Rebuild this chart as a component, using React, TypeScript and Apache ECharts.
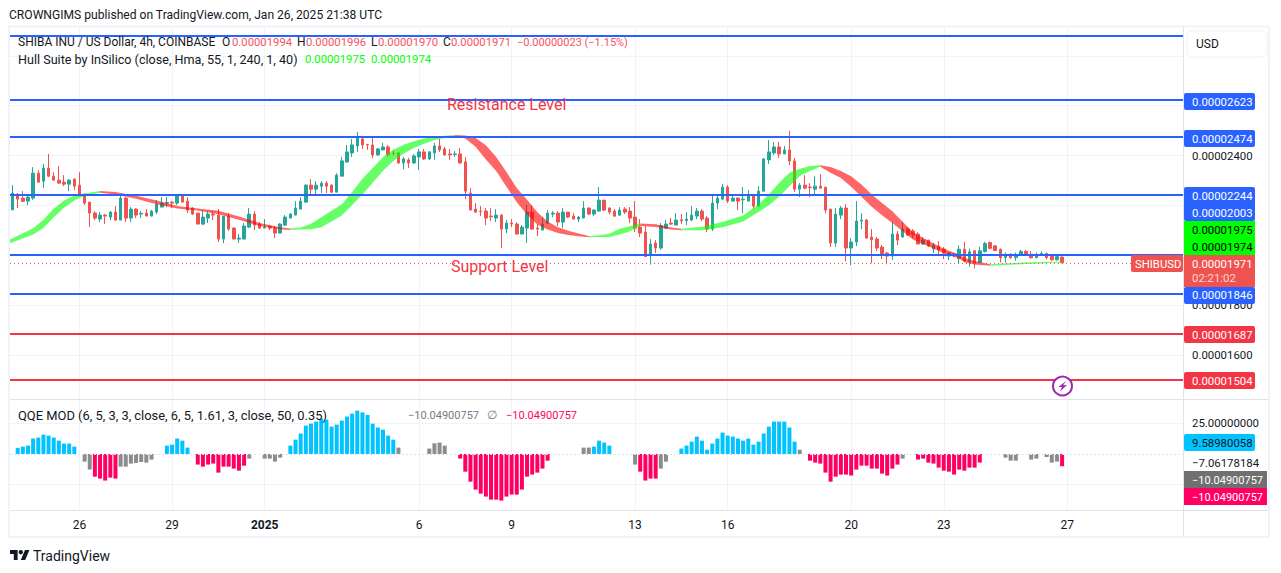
import React, { useEffect, useRef } from "react";
import * as echarts from "echarts";

const FONT = "Roboto";
const SLOT_COUNT = 228;
const dayTicks: Record<number, string> = { 13: "26", 31: "29", 49: "2025", 79: "6", 97: "9", 121: "13", 139: "16", 163: "20", 181: "23", 205: "27" };
// prices are in units of 0.00000001; rows are [open, high, low, close]
const candleRows = [
  [2183,2282,2183,2250],[2246,2250,2190,2226],[2230,2258,2215,2217],[2218,2240,2202,2234],[2230,2354,2223,2330],
  [2330,2342,2293,2294],[2298,2367,2270,2350],[2350,2407,2314,2318],[2318,2334,2302,2302],[2302,2358,2290,2290],
  [2294,2322,2278,2286],[2286,2306,2258,2302],[2306,2310,2262,2278],[2282,2334,2242,2242],[2246,2246,2202,2210],
  [2214,2214,2114,2170],[2170,2178,2142,2150],[2146,2174,2134,2162],[2162,2166,2126,2158],[2154,2178,2142,2174],
  [2174,2198,2138,2142],[2142,2242,2142,2230],[2230,2234,2134,2150],[2150,2194,2134,2186],[2186,2190,2150,2162],
  [2166,2178,2151,2169],[2170,2186,2158,2158],[2158,2182,2158,2178],[2174,2222,2166,2206],[2194,2234,2194,2210],
  [2209,2234,2194,2213],[2214,2218,2190,2210],[2210,2238,2202,2238],[2238,2242,2214,2214],[2218,2234,2170,2182],
  [2190,2194,2162,2166],[2170,2170,2126,2126],[2126,2182,2122,2154],[2150,2178,2130,2166],[2166,2178,2142,2162],
  [2162,2186,2054,2066],[2066,2158,2050,2157],[2158,2170,2098,2106],[2110,2114,2066,2066],[2066,2086,2050,2070],
  [2066,2130,2066,2118],[2114,2190,2110,2166],[2166,2178,2102,2122],[2126,2134,2106,2110],[2110,2146,2110,2114],
  [2116,2122,2102,2110],[2110,2118,2070,2090],[2090,2130,2090,2126],[2122,2162,2118,2154],[2150,2170,2150,2166],
  [2162,2218,2162,2190],[2186,2234,2186,2218],[2214,2286,2210,2282],[2282,2306,2246,2266],[2266,2298,2246,2282],
  [2278,2298,2250,2290],[2290,2298,2250,2278],[2282,2286,2250,2254],[2254,2330,2254,2322],[2318,2395,2318,2379],
  [2375,2443,2371,2415],[2411,2467,2395,2443],[2439,2495,2415,2471],[2467,2475,2427,2443],[2445,2447,2423,2443],
  [2443,2475,2391,2403],[2403,2431,2399,2427],[2423,2451,2423,2435],[2435,2443,2395,2403],[2411,2423,2399,2409],
  [2411,2415,2367,2371],[2371,2395,2346,2387],[2383,2391,2350,2371],[2371,2407,2367,2399],[2395,2427,2342,2415],
  [2415,2427,2383,2387],[2387,2419,2383,2415],[2411,2451,2383,2439],[2439,2467,2415,2423],[2427,2435,2399,2403],
  [2407,2427,2383,2403],[2405,2419,2395,2407],[2407,2431,2367,2371],[2375,2395,2226,2258],[2250,2270,2182,2182],
  [2186,2210,2170,2174],[2178,2198,2158,2176],[2178,2190,2122,2150],[2158,2190,2138,2155],[2150,2186,2134,2162],
  [2162,2166,2030,2106],[2106,2142,2090,2130],[2130,2146,2114,2126],[2126,2134,2086,2086],[2086,2122,2086,2114],
  [2110,2202,2050,2174],[2174,2202,2102,2106],[2110,2126,2078,2106],[2102,2154,2102,2126],[2130,2182,2126,2170],
  [2166,2178,2154,2170],[2170,2178,2118,2134],[2134,2190,2110,2174],[2174,2174,2150,2154],[2158,2170,2146,2146],
  [2146,2158,2134,2154],[2150,2218,2150,2190],[2190,2194,2162,2166],[2166,2186,2158,2182],[2178,2274,2178,2222],
  [2222,2222,2178,2182],[2190,2194,2166,2174],[2178,2186,2154,2158],[2162,2194,2158,2182],[2186,2194,2166,2174],
  [2178,2194,2130,2150],[2154,2218,2094,2110],[2114,2146,2074,2090],[2094,2117,1994,1996],[2002,2066,1964,2046],
  [2050,2062,2010,2030],[2030,2130,2023,2120],[2110,2142,2108,2126],[2130,2150,2122,2126],[2122,2170,2122,2142],
  [2143,2166,2126,2139],[2140,2174,2122,2146],[2142,2198,2138,2162],[2158,2190,2146,2178],[2178,2186,2138,2146],
  [2150,2158,2094,2106],[2106,2246,2098,2210],[2210,2246,2186,2230],[2226,2286,2222,2274],[2274,2282,2210,2218],
  [2218,2238,2218,2230],[2230,2234,2182,2218],[2223,2274,2170,2226],[2218,2262,2218,2242],[2242,2246,2186,2198],
  [2198,2278,2194,2258],[2258,2391,2258,2387],[2383,2463,2367,2415],[2411,2455,2403,2435],[2435,2455,2391,2407],
  [2407,2439,2407,2423],[2423,2499,2362,2379],[2379,2391,2254,2266],[2266,2290,2234,2282],[2282,2322,2266,2270],
  [2274,2290,2234,2272],[2266,2318,2242,2278],[2278,2326,2270,2270],[2274,2274,2170,2182],[2186,2186,2034,2050],
  [2050,2190,2034,2166],[2162,2198,2146,2190],[2190,2206,1977,2030],[2030,2070,1961,2054],[2054,2218,2038,2138],
  [2138,2170,2106,2142],[2142,2146,2066,2070],[2074,2106,1969,2063],[2066,2074,2018,2030],[2034,2042,1986,2002],
  [2010,2014,1965,1998],[1998,2134,1982,2086],[2086,2098,2042,2062],[2074,2134,2074,2106],[2106,2114,2078,2082],
  [2098,2106,2070,2082],[2086,2094,2046,2046],[2046,2074,2042,2062],[2062,2062,2034,2038],[2026,2050,2010,2042],
  [2038,2058,2006,2022],[2026,2034,1986,2010],[1998,2014,1982,2010],[2006,2010,1994,1998],[1988,2041,1969,2025],
  [2025,2055,1975,1979],[1975,2028,1956,2015],[2019,2021,1949,1969],[1972,2035,1972,2019],[2016,2055,2012,2048],
  [2052,2056,2025,2029],[2039,2041,2019,2020],[2025,2028,1972,1992],[1992,2012,1972,2005],[2005,2009,1988,1991],
  [1992,2012,1979,2003],[2001,2023,1999,2016],[2016,2023,2001,2005],[2005,2017,1988,1991],[1992,2012,1988,2004],
  [2004,2017,2001,2008],[2008,2012,1985,1992],[2003,2005,1979,1983],[1983,1999,1980,1996],[1994,1996,1970,1971],
];
// Hull Suite ribbon, read at anchor candles: [candle index, upper edge, lower edge]
const hullRows = [
  [0,2063,2051],[4,2108,2086],[6,2142,2112],[8,2186,2155],[10,2219,2193],[12,2239,2222],[14,2247,2241],[17,2257,2253],
  [20,2253,2246],[24,2238,2229],[28,2219,2207],[32,2197,2190],[36,2187,2182],[40,2178,2167],[44,2155,2145],[48,2129,2120],[52,2112,2107],[54,2107,2104],
  [56,2111,2106],[58,2126,2107],[60,2152,2115],[62,2178,2138],[64,2204,2162],[66,2253,2204],[68,2306,2246],[70,2349,2293],[72,2393,2341],[74,2422,2380],[76,2442,2409],[78,2456,2432],[80,2467,2449],[82,2474,2464],[84,2478,2472],[86,2481,2479],
  [88,2479,2470],[90,2469,2437],[92,2440,2386],[94,2393,2340],[96,2333,2277],[98,2269,2215],[100,2222,2166],[102,2172,2126],[104,2135,2106],[106,2112,2092],[108,2098,2084],[110,2087,2079],[112,2077,2075],
  [114,2080,2076],[116,2086,2076],[118,2106,2086],[120,2116,2099],[122,2127,2120],
  [125,2124,2116],[128,2111,2106],[130,2106,2103],
  [134,2114,2103],[138,2133,2115],[142,2159,2138],[145,2204,2176],[147,2243,2203],[149,2290,2237],[151,2330,2279],[153,2346,2320],[155,2357,2340],[157,2360,2357],
  [159,2353,2333],[161,2337,2312],[163,2316,2277],[165,2283,2237],[167,2243,2197],[169,2209,2163],[171,2176,2132],[175,2092,2066],[178,2058,2039],[181,2026,2012],[184,2003,1990],[185,1989,1975],[187,1977,1966],[190,1964,1961],
  [194,1968,1965],[198,1972,1969],[204,1975,1974],
];
const hullTurns = [0,17,54,86,112,122,130,157,190,204];
const levelsBlue = [2880, 2623, 2474, 2244, 2003, 1846];
const levelsRed = [1687, 1504];
const lastClose = 1971;
const priceGrid = [2800, 2600, 2400, 2200, 2000, 1800, 1600];
const priceLabels = [2600, 2400, 1800, 1600];
const qqeBlue = [[1,4.9],[2,6],[3,6.8],[4,12.6],[5,13.4],[6,15.8],[7,15],[8,13.4],[9,10.9],[10,8.5],[11,8.5],[12,6],[30,6.8],[31,7.6],[32,12.6],[33,10.9],[34,5.2],[54,6.8],[55,11.7],[56,16.7],[57,23.2],[58,24.8],[59,26.5],[60,28.9],[61,28.1],[62,22.4],[63,24],[64,27.3],[65,30.6],[66,33],[67,35.5],[68,34],[69,32],[70,24.8],[71,21.6],[72,19.9],[73,15],[74,11.7],[113,6],[114,10.9],[115,9.3],[116,6.8],[130,4.4],[131,6.8],[132,10.1],[133,14.2],[134,10.9],[135,3.5],[136,8.5],[137,12.6],[138,17.5],[139,15],[140,14.2],[141,12.6],[142,10.9],[143,12.6],[144,7.6],[145,10.1],[146,16.7],[147,22.4],[148,26.5],[149,26.5],[150,26.5],[151,21.6],[152,10.1]];
const qqePink = [[16,-18.6],[17,-20.2],[18,-21.8],[19,-19.4],[20,-20.2],[36,-8.7],[37,-10.4],[38,-8.7],[39,-7.9],[40,-15.3],[41,-10.4],[42,-10.4],[43,-12],[44,-13.7],[45,-9.6],[87,-3.8],[88,-14.5],[89,-22.7],[90,-29.2],[91,-32.5],[92,-34.9],[93,-37.4],[94,-37.4],[95,-38.2],[96,-34.9],[97,-33.3],[98,-33.3],[99,-29.2],[100,-18.6],[101,-16.9],[102,-15.3],[103,-12],[104,-5.5],[122,-14.5],[123,-21.8],[124,-20.2],[125,-20.2],[155,-5.5],[156,-7.1],[157,-7.9],[158,-15.3],[159,-22.7],[160,-18.6],[161,-16.9],[162,-16.9],[163,-17.7],[164,-12.8],[165,-9.6],[166,-9.6],[167,-12],[168,-12],[169,-16.1],[170,-17.7],[171,-12],[172,-8.7],[176,-4.6],[177,-3.8],[178,-7.1],[179,-7.9],[180,-11.2],[181,-13.7],[182,-14.5],[183,-16.9],[184,-12.8],[185,-13.7],[186,-11.2],[187,-11.2],[188,-7.1],[204,-10.05]];
const qqeGray = [[14,-6.3],[15,-12.8],[21,-10.4],[22,-10.4],[23,-7.9],[24,-7.4],[25,-6.6],[26,-7.1],[27,-4.6],[46,-3.8],[49,-3.8],[50,-3.8],[51,-6.3],[52,-3],[75,5.2],[81,4.4],[82,8.7],[83,9.3],[84,6.8],[111,5.2],[112,5.2],[121,-8.7],[126,-12],[127,-6.3],[153,3.5],[173,-3.8],[193,-3],[194,-5.5],[195,-5.5],[198,-4.6],[199,-3.8],[201,-2.5],[202,-7.1],[203,-6.3]];
const qqeGrid = [25, -25];
const qqeLabels = [25, -7.06178184];

const slots = Array.from({ length: SLOT_COUNT }, (_, i) => String(i));
const priceText = (v: number) => "0.0000" + String(Math.round(v)).padStart(4, "0");
const BLUE = "#2962ff", RED = "#f23645", UP = "#26a69a", DOWN = "#ef5350", INK = "#131722", LOSS = "#f7525f", NUM = 11.4;

const label = (x: number, y: number, text: string, fill = INK, size = 12) => ({
  type: "text", x, y, z: 50,
  style: { text, fill, font: `normal ${size}px ${FONT}`, align: "left", verticalAlign: "middle" },
});
const tag = (x: number, y: number, w: number, h: number, fill: string, r: any = 2) => ({
  type: "rect", z: 40, shape: { x, y, width: w, height: h, r }, style: { fill },
});
const rule = (x1: number, y1: number, x2: number, y2: number, stroke = "#e0e3eb", lineWidth = 1) => ({
  type: "line", z: 30, shape: { x1, y1, x2, y2 }, style: { stroke, lineWidth },
});

const App = () => {
  const ref = useRef<HTMLDivElement>(null);
  useEffect(() => {
    const chart = echarts.init(ref.current!, undefined, { renderer: "svg" });
    const runs = hullTurns.slice(0, -1).map((s, k) => ({ start: s, end: hullTurns[k + 1], up: k % 2 === 0 }));
    chart.setOption({
      animation: false,
      textStyle: { fontFamily: FONT },
      grid: [
        { left: 10, top: 26.6, width: 1173, height: 372 },
        { left: 10, top: 399, width: 1173, height: 111 },
      ],
      xAxis: [
        { type: "category", gridIndex: 0, data: slots, boundaryGap: true, axisLine: { show: false }, axisTick: { show: false }, axisLabel: { show: false },
          splitLine: { show: true, alignWithLabel: true, interval: (i: number) => i in dayTicks, lineStyle: { color: "#f0f3fa", width: 1 } } },
        { type: "category", gridIndex: 1, data: slots, boundaryGap: true, axisLine: { show: false }, axisTick: { show: false },
          axisLabel: { show: true, interval: (i: number) => i in dayTicks, color: INK, fontSize: 12, fontFamily: FONT, margin: 9,
            formatter: (_: string, i: number) => (dayTicks[i] === "2025" ? "{b|2025}" : dayTicks[i] || ""), rich: { b: { fontWeight: "bold", fontSize: 12, color: INK, fontFamily: FONT } } },
          splitLine: { show: true, alignWithLabel: true, interval: (i: number) => i in dayTicks, lineStyle: { color: "#f0f3fa", width: 1 } } },
      ],
      yAxis: [
        { type: "value", gridIndex: 0, position: "right", min: 1427, max: 2917, axisLine: { show: false },
          axisTick: { show: false, customValues: priceGrid },
          axisLabel: { customValues: priceLabels, formatter: priceText, color: INK, fontSize: NUM, fontFamily: FONT, margin: 9 },
          splitLine: { show: true, lineStyle: { color: "#f0f3fa", width: 1 } } },
        { type: "value", gridIndex: 1, position: "right", min: -45.9, max: 45, axisLine: { show: false },
          axisTick: { show: false, customValues: qqeGrid },
          axisLabel: { customValues: qqeLabels, formatter: (v: number) => (v < 0 ? "\u2212" : "") + Math.abs(v).toFixed(8), color: INK, fontSize: NUM, fontFamily: FONT, margin: 9 },
          splitLine: { show: true, lineStyle: { color: "#f0f3fa", width: 1 } } },
      ],
      series: [
        { type: "candlestick", xAxisIndex: 0, yAxisIndex: 0, barWidth: 3, z: 2,
          data: candleRows.map(([o, h, l, c]) => [o, c, l, h]),
          itemStyle: { color: UP, color0: DOWN, borderColor: UP, borderColor0: DOWN, borderWidth: 1 },
          markLine: { silent: true, symbol: "none", z: 6, label: { show: false }, data: [
            ...levelsBlue.map((v) => ({ yAxis: v, lineStyle: { color: BLUE, width: 2, type: "solid" } })),
            ...levelsRed.map((v) => ({ yAxis: v, lineStyle: { color: RED, width: 2, type: "solid" } })),
            { yAxis: lastClose, lineStyle: { color: DOWN, width: 1, type: [1, 3] } },
          ] } },
        { type: "custom", xAxisIndex: 0, yAxisIndex: 0, z: 4, silent: true,
          data: runs.map((_, k) => k),
          renderItem: (params: any, api: any) => {
            const run = runs[params.dataIndex];
            const band = api.size([1, 0])[0];
            const rows = hullRows.filter((r) => r[0] >= run.start && r[0] <= run.end);
            const at = (r: number[], v: number, dy: number) => {
              const p = api.coord([r[0], v]);
              return [r[0] === 0 ? p[0] - band / 2 : p[0], p[1] + dy];
            };
            const top = rows.map((r) => at(r, r[1], -0.4));
            const bot = rows.slice().reverse().map((r) => at(r, r[2], 0.4));
            return { type: "polygon", shape: { points: [...top, ...bot] }, style: { fill: run.up ? "#00ff00" : "#ff0000", opacity: 0.6 } };
          } },
        { type: "bar", xAxisIndex: 1, yAxisIndex: 1, data: qqeBlue, barWidth: 4, barGap: "-100%", itemStyle: { color: "#00c3ff" },
          markLine: { silent: true, symbol: "none", z: 6, label: { show: false }, data: [{ yAxis: 0, lineStyle: { color: "#e0e3eb", width: 1, type: [2, 2] } }] } },
        { type: "bar", xAxisIndex: 1, yAxisIndex: 1, data: qqePink, barWidth: 4, barGap: "-100%", itemStyle: { color: "#ff0062" } },
        { type: "bar", xAxisIndex: 1, yAxisIndex: 1, data: qqeGray, barWidth: 4, barGap: "-100%", itemStyle: { color: "#8c8c8c" } },
      ],
      graphic: { elements: [
        { type: "rect", z: 30, shape: { x: 9, y: 26.5, width: 1260, height: 510.5 }, style: { fill: "none", stroke: "#f0f3fa", lineWidth: 2 } },
        rule(1183.5, 27, 1183.5, 537),
        rule(10, 399.5, 1268, 399.5),
        rule(10, 510.5, 1268, 510.5),
        label(9, 15, "CROWNGIMS published on TradingView.com, Jan 26, 2025 21:38 UTC", INK, 12.1),
        label(18, 42, "SHIBA INU / US Dollar, 4h, COINBASE", INK, 12),
        label(222, 42, "O", INK, 12), label(232, 42, "0.00001994", LOSS, 11.3),
        label(297, 42, "H", INK, 12), label(306, 42, "0.00001996", LOSS, 11.3),
        label(371, 42, "L", INK, 12), label(378, 42, "0.00001970", LOSS, 11.3),
        label(443, 42, "C", INK, 12), label(451, 42, "0.00001971", LOSS, 11.3),
        label(517, 42, "\u22120.00000023 (\u22121.15%)", LOSS, 11),
        label(18, 59, "Hull Suite by InSilico (close, Hma, 55, 1, 240, 1, 40)", INK, 12.6),
        label(305, 59, "0.00001975", "#00ff00", 11.3), label(371, 59, "0.00001974", "#00ff00", 11.3),
        label(18, 415, "QQE MOD (6, 5, 3, 3, close, 6, 5, 1.61, 3, close, 50, 0.35)", INK, 12.9),
        label(408, 415, "\u221210.04900757", "#787b86", 11), label(487, 415, "\u2205", "#787b86", 12), label(506, 415, "\u221210.04900757", "#ff0062", 11),
        label(447, 104, "Resistance Level", RED, 16),
        label(451, 266.5, "Support Level", RED, 16),
        { type: "rect", z: 40, shape: { x: 1187, y: 31, width: 80, height: 26, r: 5 }, style: { fill: "#fff", stroke: "#f0f3fa", lineWidth: 1 } },
        label(1196, 44, "USD", INK, 12),
        tag(1184, 93, 71, 17, BLUE), label(1192, 102, "0.00002623", "#fff", NUM),
        tag(1184, 130, 71, 17, BLUE), label(1192, 139, "0.00002474", "#fff", NUM),
        tag(1184, 187, 71, 34, BLUE), label(1192, 196, "0.00002244", "#fff", NUM), label(1192, 213, "0.00002003", "#fff", NUM),
        tag(1184, 221, 71, 34, "#00ff00", 0), label(1192, 230, "0.00001975", "#000", NUM), label(1192, 247, "0.00001974", "#000", NUM),
        tag(1184, 255, 71, 32, "#ef5350", 0), label(1192, 264, "0.00001971", "#fff", NUM), label(1192, 278, "02:21:02", "#fbd5d4", NUM),
        tag(1184, 287, 71, 17, BLUE), label(1192, 295, "0.00001846", "#fff", NUM),
        tag(1184, 326, 71, 17, RED), label(1192, 335, "0.00001687", "#fff", NUM),
        tag(1184, 372, 71, 17, RED), label(1192, 381, "0.00001504", "#fff", NUM),
        tag(1131, 255, 52, 17, "#ef5350"), label(1135, 264, "SHIBUSD", "#fff", 11.3),
        tag(1184, 434, 71, 17, "#00c3ff"), label(1192, 443, "9.58980058", INK, NUM),
        tag(1184, 471, 83, 17, "#707070", 0), label(1192, 480, "\u221210.04900757", "#fff", 11),
        tag(1184, 488, 83, 17, "#ff0062", 0), label(1192, 497, "\u221210.04900757", "#fff", 11),
        { type: "circle", z: 45, shape: { cx: 1062.5, cy: 386, r: 9.5 }, style: { fill: "#fff", stroke: "#9c27b0", lineWidth: 2 } },
        { type: "polygon", z: 46, shape: { points: [[1066, 381], [1058.5, 387], [1062, 387], [1060, 391.5], [1067, 385], [1063.2, 385.2]] }, style: { fill: "#9c27b0" } },
        { type: "polygon", z: 46, shape: { points: [[10, 550], [17.6, 550], [17.6, 560], [13.8, 560], [13.8, 554], [10, 554]] }, style: { fill: INK } },
        { type: "polygon", z: 46, shape: { points: [[25, 550], [29.4, 550], [25.2, 560], [20.8, 560]] }, style: { fill: INK } },
        { type: "circle", z: 46, shape: { cx: 20.8, cy: 552.2, r: 2.2 }, style: { fill: INK } },
        label(33, 556, "TradingView", INK, 14),
      ] },
    });
    return () => chart.dispose();
  }, []);
  return <div ref={ref} style={{ position: "fixed", left: 0, top: 0, width: 1281, height: 573, background: "#fff" }} />;
};

export default App;
